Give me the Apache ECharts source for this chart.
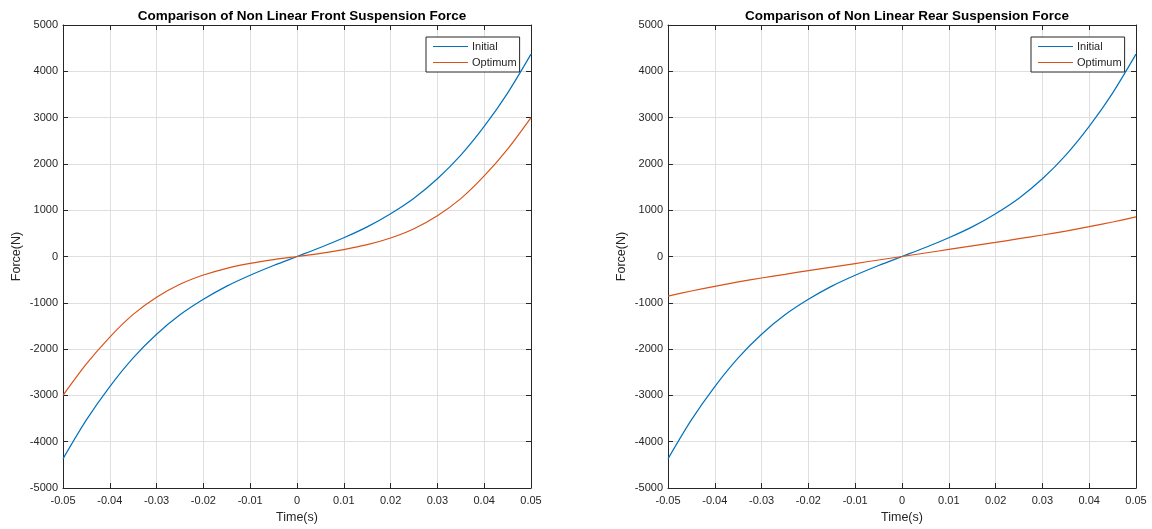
<!DOCTYPE html>
<html>
<head>
<meta charset="utf-8">
<script src="https://cdn.jsdelivr.net/npm/echarts@6/dist/echarts.min.js"></script>
<style>
html,body{margin:0;padding:0;background:#fff;}
#c{width:1152px;height:529px;}
</style>
</head>
<body>
<div id="c"></div>
<script>
var times = [-0.05,-0.045,-0.04,-0.035,-0.03,-0.025,-0.02,-0.015,-0.01,-0.005,0,0.005,0.01,0.015,0.02,0.025,0.03,0.035,0.04,0.045,0.05];
var frontInitial = [-4370,-3530,-2810,-2190,-1680,-1260,-925,-640,-405,-195,0,195,405,640,925,1260,1680,2190,2810,3530,4370];
var frontOptimum = [-3000,-2320,-1740,-1250,-880,-600,-400,-255,-150,-68,0,68,150,255,400,600,880,1250,1740,2320,3000];
var rearInitial = [-4370,-3530,-2810,-2190,-1680,-1260,-925,-640,-405,-195,0,195,405,640,925,1260,1680,2190,2810,3530,4370];
var rearOptimum = [-855,-745,-645,-550,-465,-385,-305,-228,-152,-75,0,75,152,228,305,385,465,550,645,745,855];
var seriesNames = ['Initial','Optimum'];
var titles = ['Comparison of Non Linear Front Suspension Force','Comparison of Non Linear Rear Suspension Force'];
var xName = 'Time(s)';
var yName = 'Force(N)';

function pairs(xs, ys){ return xs.map(function(x,i){ return [x, ys[i]]; }); }

var axisColor = '#262626';
var font = 'Liberation Sans, Arial, Helvetica, sans-serif';
var grids = [
  {left:63, right:621, top:25, bottom:39},
  {left:668, right:16, top:25, bottom:39}
];
var centers = [297, 902];
var xAxes = [], yAxes = [];
[0,1].forEach(function(g){
  xAxes.push({
    type:'value', gridIndex:g, min:-0.05, max:0.05, interval:0.01,
    position:'bottom',
    name: xName, nameLocation:'middle', nameGap:23,
    nameTextStyle:{color:axisColor, fontSize:12.5, fontFamily:font},
    axisLine:{show:true, onZero:false, lineStyle:{color:axisColor, width:1}},
    axisTick:{show:true, inside:true, length:5, lineStyle:{color:axisColor}},
    axisLabel:{color:axisColor, fontSize:11, fontFamily:font, margin:7,
      formatter:function(v){ return String(+v.toFixed(2)); }},
    splitLine:{show:true, lineStyle:{color:'#dfdfdf', width:1}}
  });
  xAxes.push({
    type:'value', gridIndex:g, min:-0.05, max:0.05, interval:0.01,
    position:'top',
    axisLine:{show:true, onZero:false, lineStyle:{color:axisColor, width:1}},
    axisTick:{show:true, inside:true, length:5, lineStyle:{color:axisColor}},
    axisLabel:{show:false}, splitLine:{show:false}
  });
  yAxes.push({
    type:'value', gridIndex:g, min:-5000, max:5000, interval:1000,
    position:'left',
    name: yName, nameLocation:'middle', nameGap:40, nameRotate:90,
    nameTextStyle:{color:axisColor, fontSize:12.5, fontFamily:font},
    axisLine:{show:true, onZero:false, lineStyle:{color:axisColor, width:1}},
    axisTick:{show:true, inside:true, length:5, lineStyle:{color:axisColor}},
    axisLabel:{color:axisColor, fontSize:11, fontFamily:font, margin:5,
      formatter:function(v){ return String(Math.round(v)); }},
    splitLine:{show:true, lineStyle:{color:'#dfdfdf', width:1}}
  });
  yAxes.push({
    type:'value', gridIndex:g, min:-5000, max:5000, interval:1000,
    position:'right',
    axisLine:{show:true, onZero:false, lineStyle:{color:axisColor, width:1}},
    axisTick:{show:true, inside:true, length:5, lineStyle:{color:axisColor}},
    axisLabel:{show:false}, splitLine:{show:false}
  });
});

function mk(name, data, g, color){
  return {
    name:name, type:'line', xAxisIndex:g*2, yAxisIndex:g*2,
    data:data, smooth:0.3, symbol:'none', showSymbol:false,
    lineStyle:{color:color, width:1.2}, itemStyle:{color:color},
    animation:false, z:3
  };
}

var legendCommon = {
  orient:'vertical', top:37, itemWidth:35, itemHeight:10, itemGap:5,
  padding:[4,3,4,7], borderColor:axisColor, borderWidth:1,
  backgroundColor:'#fff', data:seriesNames, icon:'path://M0,5L35,5L35,6L0,6Z',
  textStyle:{color:axisColor, fontSize:11, fontFamily:font, padding:[0,0,0,-1]},
  selectedMode:false
};

var option = {
  animation:false,
  backgroundColor:'#fff',
  title: [0,1].map(function(g){
    return {text:titles[g], left:centers[g], top:4, textAlign:'center',
      textStyle:{color:'#000', fontSize:13.5, fontWeight:'bold', fontFamily:font}};
  }),
  legend:[
    Object.assign({left:426}, legendCommon),
    Object.assign({left:1031}, legendCommon)
  ],
  grid:grids,
  xAxis:xAxes,
  yAxis:yAxes,
  series:[
    mk(seriesNames[0], pairs(times, frontInitial), 0, '#0072BD'),
    mk(seriesNames[1], pairs(times, frontOptimum), 0, '#D95319'),
    mk(seriesNames[0], pairs(times, rearInitial), 1, '#0072BD'),
    mk(seriesNames[1], pairs(times, rearOptimum), 1, '#D95319')
  ]
};
var chart = echarts.init(document.getElementById('c'), null, {renderer:'canvas'});
chart.setOption(option);
</script>
</body>
</html>
